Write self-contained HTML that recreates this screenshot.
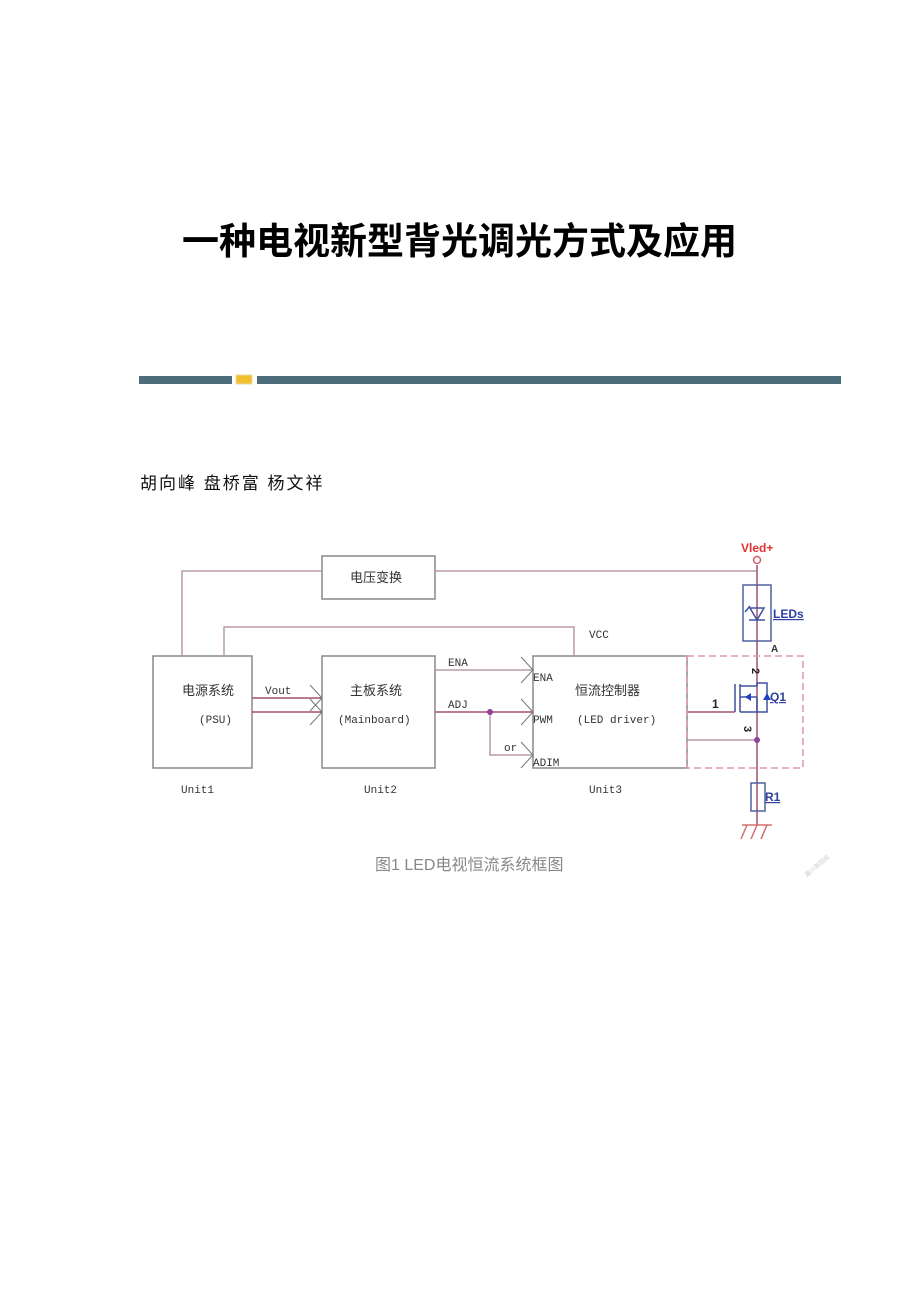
<!DOCTYPE html>
<html><head><meta charset="utf-8"><style>
html,body{margin:0;padding:0;background:#fff;width:920px;height:1302px;overflow:hidden}
svg{display:block}
</style></head><body>
<svg width="920" height="1302" viewBox="0 0 920 1302" xmlns="http://www.w3.org/2000/svg">
<text x="182" y="254" font-family="Liberation Sans, Noto Sans CJK SC, sans-serif" font-size="37" font-weight="bold" textLength="555" fill="#000">一种电视新型背光调光方式及应用</text>
<rect x="139" y="376" width="93" height="8" fill="#4d6d7c"/>
<rect x="236" y="375" width="16" height="9" fill="#f0c030" stroke="#e8d9a0"/>
<rect x="257" y="376" width="584" height="8" fill="#4d6d7c"/>
<text x="140" y="489" font-family="Liberation Sans, Noto Sans CJK SC, sans-serif" font-size="17" fill="#111" letter-spacing="2">胡向峰 盘桥富 杨文祥</text>
<g fill="none" stroke-width="1.5">
<g stroke="#888">
<rect x="322" y="556" width="113" height="43"/>
<rect x="153" y="656" width="99" height="112"/>
<rect x="322" y="656" width="113" height="112"/>
<rect x="533" y="656" width="154" height="112"/>
</g>
<g stroke="#b898a8">
<polyline points="182,656 182,571 322,571"/>
<polyline points="435,571 757,571"/>
<polyline points="224,656 224,627 574,627 574,656"/>
<line x1="435" y1="670" x2="533" y2="670"/>
<polyline points="490,712 490,755 533,755"/>
<line x1="687" y1="740" x2="757" y2="740"/>
</g>
<g stroke="#a05070">
<line x1="252" y1="698" x2="322" y2="698"/>
<line x1="252" y1="712" x2="322" y2="712"/>
<line x1="435" y1="712" x2="533" y2="712"/>
<line x1="687" y1="712" x2="735" y2="712"/>
<line x1="757" y1="565" x2="757" y2="825"/>
</g>
<g stroke="#777" stroke-width="1">
<polyline points="310,685 322,698 310,711"/><polyline points="310,699 322,712 310,725"/>
<polyline points="521,657 533,670 521,683"/><polyline points="521,699 533,712 521,725"/>
<polyline points="521,742 533,755 521,768"/>
</g>
<rect x="687" y="656" width="116" height="112" stroke="#e09aa0" stroke-dasharray="7,4"/>
<circle cx="757" cy="560" r="3.5" stroke="#d06070"/>
<rect x="743" y="585" width="28" height="56" stroke="#5060a0"/>
<polygon points="750,608 764,608 757,620" stroke="#4050a0"/>
<line x1="749" y1="620" x2="765" y2="620" stroke="#4050a0"/>
<line x1="745" y1="612" x2="750" y2="606" stroke="#4050a0"/>
<g stroke="#4050a0">
<line x1="735" y1="684" x2="735" y2="712"/>
<line x1="740" y1="684" x2="740" y2="712"/>
<polyline points="740,686 757,686 757,683 767,683 767,712 757,712 740,712"/>
<line x1="740" y1="697" x2="757" y2="697"/>
<line x1="757" y1="697" x2="757" y2="712"/>
</g>
<polygon points="745,697 751,693 751,701" fill="#2040c0" stroke="none"/>
<polygon points="767,693 763,700 771,700" fill="#2040c0" stroke="none"/>
<rect x="751" y="783" width="14" height="28" stroke="#5060a0"/>
<g stroke="#d07070"><line x1="742" y1="825" x2="772" y2="825"/><line x1="747" y1="825" x2="741" y2="839"/><line x1="757" y1="825" x2="751" y2="839"/><line x1="767" y1="825" x2="761" y2="839"/></g>
</g>
<circle cx="490" cy="712" r="3" fill="#9040a0"/>
<circle cx="757" cy="740" r="3" fill="#9040a0"/>
<g font-family="Liberation Mono, Noto Sans CJK SC, monospace" font-size="11" fill="#333">
<text x="350" y="582" font-family="Noto Sans CJK SC, sans-serif" font-size="13">电压变换</text>
<text x="182" y="695" font-family="Noto Sans CJK SC, sans-serif" font-size="13">电源系统</text>
<text x="199" y="723">(PSU)</text>
<text x="265" y="694">Vout</text>
<text x="350" y="695" font-family="Noto Sans CJK SC, sans-serif" font-size="13">主板系统</text>
<text x="338" y="723">(Mainboard)</text>
<text x="448" y="666">ENA</text>
<text x="448" y="708">ADJ</text>
<text x="504" y="751">or</text>
<text x="533" y="681">ENA</text>
<text x="533" y="723">PWM</text>
<text x="533" y="766">ADIM</text>
<text x="575" y="695" font-family="Noto Sans CJK SC, sans-serif" font-size="13">恒流控制器</text>
<text x="577" y="723">(LED driver)</text>
<text x="589" y="638">VCC</text>
<text x="181" y="793">Unit1</text>
<text x="364" y="793">Unit2</text>
<text x="589" y="793">Unit3</text>
</g>
<g font-family="Liberation Sans, sans-serif" font-size="12" font-weight="bold">
<text x="741" y="552" fill="#e03030">Vled+</text>
<text x="773" y="618" fill="#3040a0" text-decoration="underline">LEDs</text>
<text x="771" y="652" fill="#333" font-size="10">A</text>
<text x="712" y="708" fill="#222">1</text>
<text x="770" y="701" fill="#3040a0" text-decoration="underline">Q1</text>
<text x="765" y="801" fill="#3040a0" text-decoration="underline">R1</text>
<text x="752" y="668" fill="#222" transform="rotate(90 752 668)" font-size="11">2</text>
<text x="744" y="726" fill="#222" transform="rotate(90 744 726)" font-size="11">3</text>
</g>
<text x="375" y="870" font-family="Liberation Sans, Noto Sans CJK SC, sans-serif" font-size="16" fill="#888">图1 LED电视恒流系统框图</text>
<text x="807" y="877" font-family="Noto Sans CJK SC, sans-serif" font-size="6" fill="#ccc" transform="rotate(-40 807 877)">嘉兴新国视</text>
</svg>
</body></html>
